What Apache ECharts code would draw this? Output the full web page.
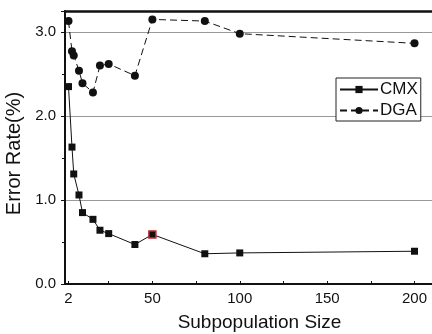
<!DOCTYPE html>
<html>
<head>
<meta charset="utf-8">
<script src="https://cdn.jsdelivr.net/npm/echarts@6/dist/echarts.min.js"></script>
<style>
  html, body { margin: 0; padding: 0; background: #fff; }
  #chart { width: 432px; height: 334px; }
</style>
</head>
<body>
<div id="chart"></div>
<script>
// Subpopulation sizes tested
const sizes = [2, 4, 5, 8, 10, 16, 20, 25, 40, 50, 80, 100, 200];
// Error rates for each method
const cmx = [2.35, 1.63, 1.31, 1.06, 0.85, 0.77, 0.64, 0.60, 0.47, 0.59, 0.36, 0.37, 0.39];
const dga = [3.13, 2.77, 2.72, 2.54, 2.39, 2.28, 2.60, 2.62, 2.48, 3.15, 3.13, 2.98, 2.865];
// Axis tick positions
const xLabelValues = [2, 50, 100, 150, 200];
const xTickValues = [2, 25, 50, 75, 100, 125, 150, 175, 200];
const yLabelValues = [0, 1, 2, 3];
const highlightSize = 50;

const font = 'Liberation Sans, Arial, sans-serif';
const chart = echarts.init(document.getElementById('chart'));

const pairs = (ys) => sizes.map((x, i) => {
  const p = { value: [x, ys[i]] };
  if (ys === cmx && x === highlightSize) {
    p.itemStyle = { borderColor: '#c0282d', borderWidth: 1.5 };
  }
  return p;
});

chart.setOption({
  animation: false,
  grid: { left: 65, top: 11, right: 0, bottom: 50, outerBoundsMode: 'none', containLabel: false },
  legend: {
    orient: 'vertical',
    left: 336, top: 78,
    padding: [3, 3, 2, 3],
    itemGap: 4,
    itemWidth: 38, itemHeight: 9,
    borderColor: '#222', borderWidth: 1,
    backgroundColor: '#fff',
    textStyle: { fontFamily: font, fontSize: 17, color: '#111', padding: [0, 0, 0, -3] },
    data: ['CMX', 'DGA']
  },
  xAxis: [{
    type: 'value', min: 0, max: 210,
    name: 'Subpopulation Size', nameLocation: 'middle', nameGap: 29,
    nameTextStyle: { fontFamily: font, fontSize: 19, color: '#111', padding: [0, 0, 0, 22] },
    axisLine: { lineStyle: { color: '#111', width: 2 } },
    axisTick: { inside: true, length: 3, customValues: xTickValues, lineStyle: { color: '#111' } },
    axisLabel: { customValues: xLabelValues, fontFamily: font, fontSize: 15, color: '#111', margin: 7 },
    splitLine: { show: false }
  }, {
    type: 'value', position: 'top', min: 0, max: 210,
    axisLine: { show: true, lineStyle: { color: '#111', width: 2.5 } },
    axisTick: { show: false }, axisLabel: { show: false }, splitLine: { show: false }
  }],
  yAxis: {
    type: 'value', min: 0, max: 3.25, interval: 1,
    name: 'Error Rate(%)', nameLocation: 'middle', nameGap: 31,
    nameTextStyle: { fontFamily: font, fontSize: 20, color: '#111', padding: [0, 12, 0, 0] },
    axisLine: { show: true, lineStyle: { color: '#111', width: 2 } },
    axisTick: { length: 4, lineStyle: { color: '#111' } },
    minorTick: { show: true, splitNumber: 2, length: 3, lineStyle: { color: '#111' } },
    axisLabel: { customValues: yLabelValues, fontFamily: font, fontSize: 15, color: '#111', margin: 9,
      formatter: (v) => v.toFixed(1) },
    splitLine: { lineStyle: { color: '#999', width: 1 } }
  },
  series: [{
    name: 'CMX', type: 'line', data: pairs(cmx),
    symbol: 'rect', symbolSize: 7,
    lineStyle: { color: '#111', width: 1 },
    itemStyle: { color: '#111' }
  }, {
    name: 'DGA', type: 'line', data: pairs(dga),
    symbol: 'circle', symbolSize: 8,
    lineStyle: { color: '#111', width: 1, type: [7, 4] },
    itemStyle: { color: '#111' }
  }]
});
</script>
</body>
</html>
